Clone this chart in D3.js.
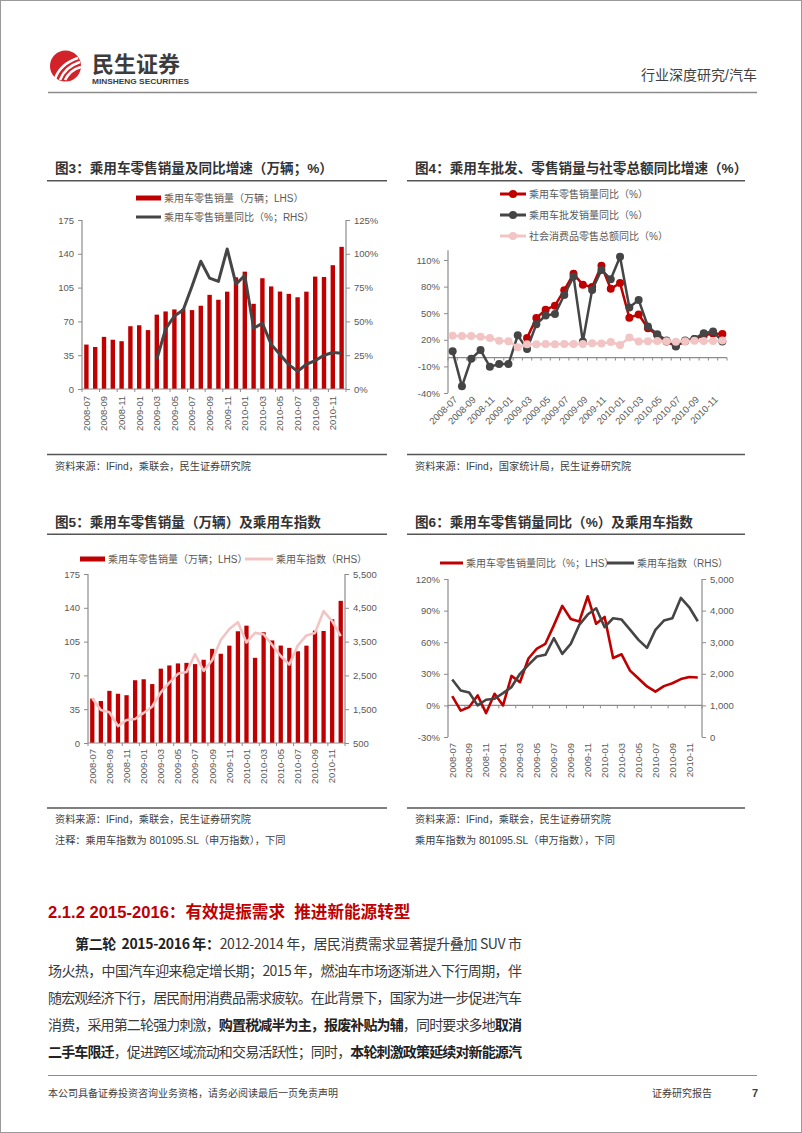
<!DOCTYPE html>
<html><head><meta charset="utf-8">
<script src="https://cdn.jsdelivr.net/npm/d3@7"></script>
<style>body{margin:0;background:#fff}svg{display:block}text{white-space:pre}</style>
</head><body>
<script>
// ---------------- DATA ----------------
const months = ["2008-07","2008-08","2008-09","2008-10","2008-11","2008-12",
  "2009-01","2009-02","2009-03","2009-04","2009-05","2009-06","2009-07","2009-08","2009-09","2009-10","2009-11","2009-12",
  "2010-01","2010-02","2010-03","2010-04","2010-05","2010-06","2010-07","2010-08","2010-09","2010-10","2010-11","2010-12"];
// 乘用车零售销量（万辆）
const retailSales = [46,43.5,54,51,49.5,65,66,61,77,80.3,82.4,83,81.7,86.2,97.5,92.4,100.8,115.7,121.5,88.2,114.7,106.2,100.9,98.5,95,100.8,116.4,116,128.2,147.2];
// 乘用车零售销量同比（%）
const retailYoY = [8.8,-5,-1.6,9.5,-7.3,11,0,28,22,44.5,54,58.5,76,94.5,82,79.6,103.6,77.5,84,45,48.5,33,25.5,18,13,18.3,21,25,27,26.5];
// 乘用车批发销量同比（%）
const wholesaleYoY = [7,-32.5,-1.4,8.4,-10.4,-7.4,-7.4,25,9.5,37.6,47.4,49,70.6,91.3,18.1,76.3,98.8,88.3,113.7,56.4,65,35,26.4,19.2,12.5,19.2,21,27.5,29.4,18.1];
// 社会消费品零售总额同比（%）
const socialRetailYoY = [24.5,24.3,24.2,23.4,21.9,19,18.5,11.6,15,15,15.2,15,15.2,15.4,15.3,16.2,15.8,17.5,14.2,22.5,18.1,18.5,18.7,18.3,17.9,18.4,18.8,18.6,18.7,19.1];
// 乘用车指数（801095.SL）
const pvIndex = [1821,1474,1410,1000,1179,1210,1390,1580,2000,2284,2547,2600,3126,2632,2947,3547,3874,4074,3474,3758,3716,3400,3074,2821,3389,3684,3758,4400,4105,3663];
const yoyStart = "2009-03"; // 图3/图4 同比线起点
const fig3LeftTicks = [0,35,70,105,140,175];
const fig3RightTicks = [0,25,50,75,100,125];
const fig4Ticks = [-40,-10,20,50,80,110];
const fig5RightTicks = [500,1500,2500,3500,4500,5500];
const fig6LeftTicks = [-30,0,30,60,90,120];
const fig6RightTicks = [0,1000,2000,3000,4000,5000];
const labelMonths = months.filter((m,i)=>i%2===0);

// ---------------- STYLE ----------------
const FF = "'Liberation Sans','Noto Sans CJK SC',sans-serif";
const RED = "#C00000", DARK = "#454545", PINK = "#F2C4C4", AX = "#8c8c8c", TXT = "#595959";

const svg = d3.select("body").append("svg").attr("width",802).attr("height",1133)
  .style("font-family",FF);
svg.append("rect").attr("x",0.5).attr("y",0.5).attr("width",801).attr("height",1132)
  .attr("fill","#fff").attr("stroke","#9a9a9a");

// ---------------- HEADER ----------------
const logo = svg.append("g");
logo.append("circle").attr("cx",65.5).attr("cy",66).attr("r",15.5).attr("fill","#D2232A");
[[0,"M55,79 Q60,64 78,58"],[1,"M60,80 Q65,67 80,62"],[2,"M65,80 Q70,70 81,67"]].forEach(d=>{
  logo.append("path").attr("d",d[1]).attr("fill","none").attr("stroke","#fff").attr("stroke-width",2.6);
});
svg.append("text").attr("x",92).attr("y",72).attr("font-size",22).attr("font-weight",700)
  .attr("fill","#3c3c3c").attr("font-family","'Noto Sans CJK SC',sans-serif").text("民生证券");
svg.append("text").attr("x",92).attr("y",83.5).attr("font-size",8).attr("font-weight",700)
  .attr("fill","#3c3c3c").attr("textLength",97).attr("lengthAdjust","spacingAndGlyphs").text("MINSHENG SECURITIES");
svg.append("text").attr("x",757).attr("y",80).attr("text-anchor","end").attr("font-size",14)
  .attr("fill","#404040").text("行业深度研究/汽车");
svg.append("line").attr("x1",48).attr("x2",757).attr("y1",92.5).attr("y2",92.5).attr("stroke","#8a8a8a").attr("stroke-width",1.5);

// ---------------- HELPERS ----------------
function frame(x0,x1,titleY,lineY,title,srcLineY,srcs){
  svg.append("text").attr("x",x0+8).attr("y",titleY).attr("font-size",13.6).attr("font-weight",700)
    .attr("fill","#333").text(title);
  svg.append("line").attr("x1",x0).attr("x2",x1).attr("y1",lineY).attr("y2",lineY).attr("stroke","#555").attr("stroke-width",1.5);
  svg.append("line").attr("x1",x0).attr("x2",x1).attr("y1",srcLineY).attr("y2",srcLineY).attr("stroke","#555").attr("stroke-width",1.5);
  srcs.forEach((s,i)=>svg.append("text").attr("x",x0+8).attr("y",srcLineY+15+i*21).attr("font-size",10.2)
    .attr("fill","#404040").text(s));
}
function yAxis(scale,x,ticks,fmt,side,top){
  const ax = (side==="left"?d3.axisLeft(scale):d3.axisRight(scale))
    .tickValues(ticks).tickFormat(fmt).tickSize(4).tickSizeOuter(0).tickPadding(4);
  const g = svg.append("g").attr("transform",`translate(${x},0)`).call(ax);
  g.select(".domain").remove();
  g.selectAll(".tick line").attr("stroke",AX);
  g.selectAll(".tick text").attr("fill",TXT).attr("font-size",9.5).attr("font-family",FF);
  const r = scale.range();
  g.append("line").attr("x1",0).attr("x2",0).attr("y1",top).attr("y2",Math.max(r[0],r[1])).attr("stroke",AX).attr("stroke-width",1.2);
  return g;
}
function vLabels(x,y0){
  labelMonths.forEach(m=>{
    svg.append("text").attr("transform",`translate(${x(m)+x.bandwidth()/2},${y0}) rotate(-90)`)
      .attr("text-anchor","end").attr("dy","0.35em").attr("font-size",9.5).attr("fill",TXT).text(m);
  });
}
function xBase(x,y,every,dir){
  svg.append("line").attr("x1",x.range()[0]).attr("x2",x.range()[1]).attr("y1",y).attr("y2",y).attr("stroke",AX).attr("stroke-width",1.2);
  const st = x.step();
  for(let i=0;i<=months.length;i+=every){
    const xx = x.range()[0] + i*st;
    svg.append("line").attr("x1",xx).attr("x2",xx).attr("y1",y).attr("y2",y+3*dir).attr("stroke",AX);
  }
}
function legendRect(x,y,label){
  svg.append("rect").attr("x",x).attr("y",y-2.5).attr("width",25).attr("height",5).attr("fill",RED);
  svg.append("text").attr("x",x+28).attr("y",y).attr("dy","0.35em").attr("font-size",10).attr("fill",TXT).text(label);
}
function legendLine(x,y,color,label,w,marker){
  svg.append("line").attr("x1",x).attr("x2",x+(w||25)).attr("y1",y).attr("y2",y).attr("stroke",color).attr("stroke-width",3);
  if(marker) svg.append("circle").attr("cx",x+(w||25)/2).attr("cy",y).attr("r",4).attr("fill",color);
  svg.append("text").attr("x",x+(w||25)+3).attr("y",y).attr("dy","0.35em").attr("font-size",10).attr("fill",TXT).text(label);
}
const pct = d=>d+"%";
const startIdx = months.indexOf(yoyStart);

// ---------------- 图3 ----------------
frame(47,387,173,180.7,"图3：乘用车零售销量及同比增速（万辆；%）",454.5,["资料来源：IFind，乘联会，民生证券研究院"]);
{
  const x = d3.scaleBand().domain(months).range([82,346]).paddingInner(0.5).paddingOuter(0.25);
  const yL = d3.scaleLinear().domain([0,175]).range([389,220]);
  const yR = d3.scaleLinear().domain([0,125]).range([389,220]);
  svg.append("g").selectAll("rect").data(months).join("rect")
    .attr("x",m=>x(m)).attr("width",x.bandwidth())
    .attr("y",(m,i)=>yL(retailSales[i])).attr("height",(m,i)=>389-yL(retailSales[i])).attr("fill",RED);
  const pts = months.map((m,i)=>[x(m)+x.bandwidth()/2,yR(retailYoY[i])]).slice(startIdx);
  svg.append("path").attr("d",d3.line()(pts)).attr("fill","none").attr("stroke",DARK).attr("stroke-width",3).attr("stroke-linejoin","round");
  yAxis(yL,82,fig3LeftTicks,d=>d,"left",220);
  yAxis(yR,346,fig3RightTicks,pct,"right",220);
  xBase(x,389,2,1);
  vLabels(x,396);
  legendRect(136,198,"乘用车零售销量（万辆；LHS）");
  legendLine(136,217,DARK,"乘用车零售销量同比（%；RHS）");
}

// ---------------- 图4 ----------------
frame(407,745,173,180.7,"图4：乘用车批发、零售销量与社零总额同比增速（%）",454.5,["资料来源：IFind，国家统计局，民生证券研究院"]);
{
  const x = d3.scaleBand().domain(months).range([448,727]).padding(0);
  const y = d3.scaleLinear().domain([-40,110]).range([393,260]);
  const cx = m=>x(m)+x.bandwidth()/2;
  yAxis(y,448,fig4Ticks,pct,"left",y(121));
  xBase(x,y(0),1,1);
  months.forEach((m,i)=>{ if(i%2===0)
    svg.append("text").attr("transform",`translate(${cx(m)+3},${398}) rotate(-45)`)
      .attr("text-anchor","end").attr("dy","0.35em").attr("font-size",9.5).attr("fill",TXT).text(m);
  });
  const series = [
    {data:retailYoY, color:RED, from:startIdx},
    {data:wholesaleYoY, color:DARK, from:0},
    {data:socialRetailYoY, color:PINK, from:0}
  ];
  series.forEach(s=>{
    const pts = months.map((m,i)=>[cx(m),y(s.data[i])]).slice(s.from);
    svg.append("path").attr("d",d3.line()(pts)).attr("fill","none").attr("stroke",s.color).attr("stroke-width",2.5).attr("stroke-linejoin","round");
    svg.append("g").selectAll("circle").data(pts).join("circle").attr("cx",d=>d[0]).attr("cy",d=>d[1]).attr("r",4).attr("fill",s.color);
  });
  legendLine(500,194,RED,"乘用车零售销量同比（%）",26,true);
  legendLine(500,215,DARK,"乘用车批发销量同比（%）",26,true);
  legendLine(500,236,PINK,"社会消费品零售总额同比（%）",26,true);
}

// ---------------- 图5 ----------------
frame(47,387,527,534.3,"图5：乘用车零售销量（万辆）及乘用车指数",808,["资料来源：IFind，乘联会，民生证券研究院","注释：乘用车指数为 801095.SL（申万指数），下同"]);
{
  const x = d3.scaleBand().domain(months).range([88,345]).paddingInner(0.5).paddingOuter(0.25);
  const yL = d3.scaleLinear().domain([0,175]).range([743,574]);
  const yR = d3.scaleLinear().domain([500,5500]).range([743,574]);
  svg.append("g").selectAll("rect").data(months).join("rect")
    .attr("x",m=>x(m)).attr("width",x.bandwidth())
    .attr("y",(m,i)=>yL(retailSales[i])).attr("height",(m,i)=>743-yL(retailSales[i])).attr("fill",RED);
  const pts = months.map((m,i)=>[x(m)+x.bandwidth()/2,yR(pvIndex[i])]);
  svg.append("path").attr("d",d3.line()(pts)).attr("fill","none").attr("stroke",PINK).attr("stroke-width",2.6).attr("stroke-linejoin","round");
  yAxis(yL,88,fig3LeftTicks,d=>d,"left",574);
  yAxis(yR,345,fig5RightTicks,d3.format(","),"right",574);
  xBase(x,743,2,1);
  vLabels(x,749);
  legendRect(80,559,"乘用车零售销量（万辆；LHS）");
  legendLine(245,559,PINK,"乘用车指数（RHS）",28);
}

// ---------------- 图6 ----------------
frame(407,745,527,534.3,"图6：乘用车零售销量同比（%）及乘用车指数",808,["资料来源：IFind，乘联会，民生证券研究院","乘用车指数为 801095.SL（申万指数），下同"]);
{
  const x = d3.scaleBand().domain(months).range([448,702]).padding(0);
  const yL = d3.scaleLinear().domain([-30,120]).range([737,579]);
  const yR = d3.scaleLinear().domain([0,5000]).range([737,579]);
  const cx = m=>x(m)+x.bandwidth()/2;
  yAxis(yL,448,fig6LeftTicks,pct,"left",579);
  yAxis(yR,702,fig6RightTicks,d3.format(","),"right",579);
  xBase(x,yL(0),2,1);
  vLabels(x,743);
  const p1 = months.map((m,i)=>[cx(m),yL(retailYoY[i])]);
  const p2 = months.map((m,i)=>[cx(m),yR(pvIndex[i])]);
  svg.append("path").attr("d",d3.line()(p1)).attr("fill","none").attr("stroke",RED).attr("stroke-width",2.6).attr("stroke-linejoin","round");
  svg.append("path").attr("d",d3.line()(p2)).attr("fill","none").attr("stroke",DARK).attr("stroke-width",2.6).attr("stroke-linejoin","round");
  legendLine(440,563,RED,"乘用车零售销量同比（%；LHS）",23);
  legendLine(607,563,DARK,"乘用车指数（RHS）",27);
}

// ---------------- TEXT ----------------
svg.append("text").attr("x",48).attr("y",918).attr("font-size",16.6).attr("font-weight",700).attr("fill",RED)
  .text("2.1.2 2015-2016：有效提振需求  推进新能源转型");
const bodyLines = [
  [["第二轮  2015-2016 年：",1],["2012-2014 年，居民消费需求显著提升叠加 SUV 市",0]],
  [["场火热，中国汽车迎来稳定增长期；2015 年，燃油车市场逐渐进入下行周期，伴",0]],
  [["随宏观经济下行，居民耐用消费品需求疲软。在此背景下，国家为进一步促进汽车",0]],
  [["消费，采用第二轮强力刺激，",0],["购置税减半为主，报废补贴为辅",1],["，同时要求多地",0],["取消",1]],
  [["二手车限迁",1],["，促进跨区域流动和交易活跃性；同时，",0],["本轮刺激政策延续对新能源汽",1]]
];
bodyLines.forEach((ln,i)=>{
  const x0 = i===0?75:48;
  const t = svg.append("text").attr("x",x0).attr("y",949+i*27).attr("font-size",14).attr("fill","#3a3a3a")
    .attr("font-family","'Noto Sans CJK SC','Liberation Sans',sans-serif");
  ln.forEach(s=>t.append("tspan").attr("font-weight",s[1]?700:400).attr("fill",s[1]?"#222":"#3a3a3a").text(s[0]));
  const w = t.node().getComputedTextLength();
  const n = ln.map(s=>s[0]).join("").length;
  t.attr("letter-spacing",((522-x0)-w)/(n-1));
});
svg.append("line").attr("x1",48).attr("x2",757).attr("y1",1075.5).attr("y2",1075.5).attr("stroke","#8a8a8a").attr("stroke-width",1.2);
svg.append("text").attr("x",48).attr("y",1097).attr("font-size",10).attr("fill","#404040").text("本公司具备证券投资咨询业务资格，请务必阅读最后一页免责声明");
svg.append("text").attr("x",652).attr("y",1097).attr("font-size",10).attr("fill","#404040").text("证券研究报告");
svg.append("text").attr("x",752).attr("y",1097).attr("font-size",11).attr("font-weight",700).attr("fill","#404040").text("7");
</script>
</body></html>
